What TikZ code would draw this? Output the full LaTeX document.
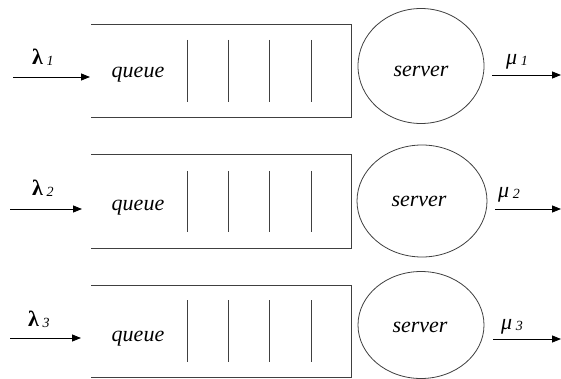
\documentclass[tikz,border=0pt]{standalone}
\usepackage{fontspec}
\setmainfont{Liberation Serif}
\usetikzlibrary{arrows.meta,shapes.geometric}
\newcommand{\subnum}[1]{\,\raisebox{-1pt}{\fontsize{14}{16}\selectfont\itshape\mdseries #1}}
\begin{document}
\begin{tikzpicture}[x=1pt,y=-1pt,
  ln/.style={draw=black!75,line width=0.9pt},
  arr/.style={draw=black,line width=0.8pt,-{Triangle[length=9pt,width=7pt]}},
  srv/.style={ellipse,draw=black!75,line width=0.8pt,inner sep=0pt},
  lbl/.style={font=\fontsize{22}{24}\selectfont\itshape,anchor=base,inner sep=0pt},
  lam/.style={font=\fontsize{22}{24}\selectfont\bfseries,anchor=base west,inner sep=0pt},
  mu/.style={font=\fontsize{22}{24}\selectfont\itshape,anchor=base west,inner sep=0pt}]
\useasboundingbox (0,0) rectangle (561,379);
\fill[white] (0,0) rectangle (561,379);
% row 1
\draw[ln] (91,24) -- (351,24) -- (351,117) -- (91,117);
\foreach \x in {187,228,269,311} \draw[ln] (\x,40) -- (\x,102);
\node[lbl] (q1) at (138,78) {queue};
\node[srv,minimum width=126pt,minimum height=115pt] (s1) at (421,66) {};
\node[lbl] (t1) at (421,77) {server};
\coordinate (a1) at (13,77); \coordinate (b1) at (90,77);
\draw[arr] (a1) -- (b1);
\node[lam] (l1) at (32,65) {λ\subnum{1}};
\coordinate (c1) at (492,75); \coordinate (d1) at (561,75);
\draw[arr] (c1) -- (d1);
\node[mu] (m1) at (506,65) {μ\subnum{1}};
% row 2
\draw[ln] (91,154) -- (351,154) -- (351,248) -- (91,248);
\foreach \x in {187,228,269,311} \draw[ln] (\x,171) -- (\x,232);
\node[lbl] (q2) at (138,210) {queue};
\node[srv,minimum width=130pt,minimum height=112pt] (s2) at (422,201) {};
\node[lbl] (t2) at (419,207) {server};
\coordinate (a2) at (10,209); \coordinate (b2) at (82,209);
\draw[arr] (a2) -- (b2);
\node[lam] (l2) at (32,196) {λ\subnum{2}};
\coordinate (c2) at (495,209); \coordinate (d2) at (561,209);
\draw[arr] (c2) -- (d2);
\node[mu] (m2) at (498,197) {μ\subnum{2}};
% row 3
\draw[ln] (91,285) -- (351,285) -- (351,377) -- (91,377);
\foreach \x in {187,228,269,311} \draw[ln] (\x,300) -- (\x,362);
\node[lbl] (q3) at (138,341) {queue};
\node[srv,minimum width=126pt,minimum height=107pt] (s3) at (421,325) {};
\node[lbl] (t3) at (420,332) {server};
\coordinate (a3) at (10,338); \coordinate (b3) at (81,338);
\draw[arr] (a3) -- (b3);
\node[lam] (l3) at (28,326) {λ\subnum{3}};
\coordinate (c3) at (493,339); \coordinate (d3) at (561,339);
\draw[arr] (c3) -- (d3);
\node[mu] (m3) at (501,329) {μ\subnum{3}};
\end{tikzpicture}
\end{document}
